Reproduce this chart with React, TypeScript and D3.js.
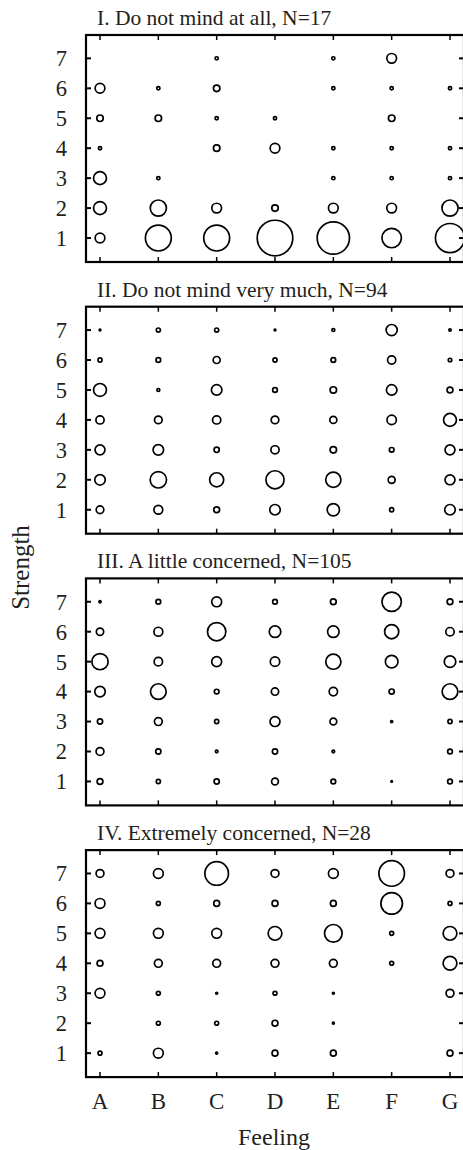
import React from "react";
import * as d3 from "d3";

const FEELINGS = ["A", "B", "C", "D", "E", "F", "G"];
const STRENGTHS = [1, 2, 3, 4, 5, 6, 7];
const PANEL_TITLES = [
  "I. Do not mind at all, N=17",
  "II. Do not mind very much, N=94",
  "III. A little concerned, N=105",
  "IV. Extremely concerned, N=28",
];
const PANEL_N = [17, 94, 105, 28];

// counts per feeling, indexed by strength 1..7
const PANEL_I = [
  [3, 4, 4, 1, 2, 3, 0],
  [8, 5, 1, 0, 2, 1, 0],
  [8, 3, 0, 2, 1, 2, 1],
  [11, 2, 0, 3, 1, 0, 0],
  [10, 3, 1, 1, 0, 1, 1],
  [6, 3, 1, 1, 2, 1, 3],
  [9, 5, 1, 1, 0, 1, 0],
];
const PANEL_II = [
  [13, 18, 17, 14, 22, 7, 3],
  [15, 28, 18, 13, 5, 8, 7],
  [10, 24, 9, 14, 18, 12, 7],
  [18, 31, 14, 13, 8, 7, 3],
  [21, 26, 11, 12, 11, 8, 5],
  [7, 12, 8, 16, 18, 14, 19],
  [18, 17, 17, 22, 10, 6, 4],
];
const PANEL_III = [
  [11, 15, 10, 20, 31, 14, 4],
  [8, 10, 15, 30, 16, 17, 9],
  [10, 5, 8, 9, 19, 35, 19],
  [13, 10, 19, 14, 18, 22, 9],
  [9, 5, 13, 16, 29, 22, 11],
  [3, 0, 4, 10, 24, 27, 37],
  [9, 9, 8, 30, 22, 16, 11],
];
const PANEL_IV = [
  [2, 0, 5, 3, 5, 5, 4],
  [5, 2, 2, 4, 5, 2, 5],
  [1, 2, 1, 4, 5, 3, 12],
  [3, 3, 2, 4, 7, 3, 4],
  [3, 1, 1, 4, 9, 3, 5],
  [0, 0, 0, 2, 2, 11, 13],
  [3, 0, 4, 7, 7, 2, 4],
];
const PANELS = [PANEL_I, PANEL_II, PANEL_III, PANEL_IV];

const W = 463;
const H = 1150;
const LEFT = 86;
const RIGHT = 464;
const FIRST_TOP = 35;
const PANEL_STEP = 271.7;
const PANEL_H = 227;
const FONT = '"Liberation Serif", "Times New Roman", serif';
const INK = "#231f20";

export default function App() {
  const x = d3.scalePoint<string>().domain(FEELINGS).range([100, 450]);
  const rScale = d3.scaleLinear().domain([0, 1]).range([0, 27.5]);

  return (
    <svg
      width={W}
      height={H}
      style={{ position: "absolute", left: 0, top: 0, background: "#fff" }}
      fontFamily={FONT}
    >
      {PANELS.map((panel, pi) => {
        const top = FIRST_TOP + pi * PANEL_STEP;
        const bottom = top + PANEL_H;
        const y = d3.scaleLinear().domain([0.2, 7.78]).range([bottom, top]);
        const N = PANEL_N[pi];
        return (
          <g key={pi}>
            <text x={97} y={top - 10} fontSize={21.5} fill={INK}>
              {PANEL_TITLES[pi]}
            </text>
            {panel.map((col, ci) =>
              col.map((n, si) =>
                n > 0 ? (
                  <circle
                    key={`${ci}-${si}`}
                    cx={x(FEELINGS[ci])}
                    cy={y(STRENGTHS[si])}
                    r={rScale(n / N)}
                    fill="none"
                    stroke="#000"
                    strokeWidth={1.7}
                  />
                ) : null
              )
            )}
            {FEELINGS.map((f) => (
              <g key={f}>
                <line x1={x(f)} x2={x(f)} y1={top} y2={top + 5} stroke="#000" strokeWidth={1.5} />
                <line x1={x(f)} x2={x(f)} y1={bottom} y2={bottom - 5} stroke="#000" strokeWidth={1.5} />
              </g>
            ))}
            {STRENGTHS.map((s) => (
              <g key={s}>
                <line x1={LEFT} x2={LEFT + 5} y1={y(s)} y2={y(s)} stroke="#000" strokeWidth={2} />
                <line x1={RIGHT} x2={RIGHT - 5} y1={y(s)} y2={y(s)} stroke="#000" strokeWidth={2} />
                <text
                  x={67}
                  y={y(s)}
                  dy="0.35em"
                  textAnchor="end"
                  fontSize={22.5}
                  fill={INK}
                >
                  {s}
                </text>
              </g>
            ))}
            <rect
              x={LEFT}
              y={top}
              width={RIGHT - LEFT}
              height={PANEL_H}
              fill="none"
              stroke="#000"
              strokeWidth={2.2}
            />
          </g>
        );
      })}
      {FEELINGS.map((f) => (
        <text key={f} x={x(f)} y={1109} textAnchor="middle" fontSize={23} fill={INK}>
          {f}
        </text>
      ))}
      <text x={274} y={1145} textAnchor="middle" fontSize={24} fill={INK}>
        Feeling
      </text>
      <text
        transform="translate(29,567.5) rotate(-90)"
        textAnchor="middle"
        fontSize={25}
        fill={INK}
      >
        Strength
      </text>
    </svg>
  );
}
